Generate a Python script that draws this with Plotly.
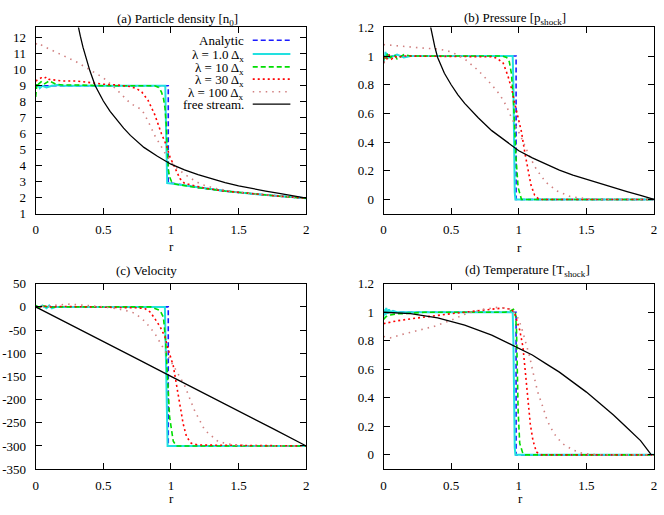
import plotly.graph_objects as go

W, H = 664, 515

# ---------------- (a) Particle density [n0] ----------------
dens_analytic_r = [0, 0.98, 0.98, 1.0, 1.2, 1.4, 1.6, 1.8, 2.0]
dens_analytic = [9, 9, 2.95, 2.93, 2.65, 2.42, 2.25, 2.1, 1.97]
dens_l1_r = [0, 0.005, 0.01, 0.02, 0.03, 0.05, 0.08, 0.12, 0.16, 0.2, 0.5, 0.958, 0.962, 0.966, 0.972, 1.0, 1.2, 1.4, 1.6, 1.8, 2.0]
dens_l1 = [8.9, 9.1, 8.95, 9.05, 8.85, 9.0, 8.9, 9.0, 9.05, 9.0, 9.0, 9.0, 7.0, 4.0, 2.92, 2.9, 2.65, 2.42, 2.25, 2.1, 1.97]
dens_l10_r = [0, 0.005, 0.01, 0.02, 0.04, 0.06, 0.1, 0.15, 0.2, 0.3, 0.5, 0.8, 0.88, 0.91, 0.93, 0.945, 0.956, 0.965, 0.97, 0.975, 0.98, 0.99, 1.005, 1.03, 1.1, 1.2, 1.4, 1.6, 1.8, 2.0]
dens_l10 = [8.3, 9.0, 9.2, 9.1, 9.25, 9.1, 9.3, 9.1, 9.05, 9.05, 9.0, 9.0, 9.0, 8.9, 8.6, 8.2, 7.6, 6.6, 5.6, 4.7, 3.8, 3.3, 3.0, 2.86, 2.75, 2.63, 2.42, 2.25, 2.1, 1.97]
dens_l30_r = [0, 0.02, 0.04, 0.06, 0.08, 0.1, 0.15, 0.2, 0.3, 0.4, 0.5, 0.6, 0.7, 0.75, 0.785, 0.83, 0.88, 0.93, 0.97, 0.99, 1.03, 1.066, 1.1, 1.15, 1.25, 1.4, 1.6, 1.8, 2.0]
dens_l30 = [9.3, 9.4, 9.5, 9.45, 9.55, 9.4, 9.35, 9.3, 9.3, 9.2, 9.1, 9.05, 8.95, 8.8, 8.6, 8.1, 7.2, 6.0, 5.2, 4.6, 3.8, 3.2, 2.9, 2.8, 2.6, 2.42, 2.25, 2.1, 1.97]
dens_l100_r = [0, 0.02, 0.05, 0.1, 0.15, 0.2, 0.3, 0.4, 0.5, 0.6, 0.7, 0.785, 0.83, 0.88, 0.92, 0.956, 1.0, 1.05, 1.13, 1.22, 1.32, 1.45, 1.6, 1.8, 2.0]
dens_l100 = [11.6, 11.7, 11.5, 11.3, 11.1, 10.9, 10.5, 10.0, 9.5, 8.75, 7.9, 7.5, 6.8, 5.9, 5.3, 4.8, 4.25, 3.8, 3.3, 2.85, 2.6, 2.4, 2.25, 2.1, 1.97]
dens_free_r = [0.31, 0.317, 0.33, 0.35, 0.375, 0.4, 0.44, 0.47, 0.5, 0.55, 0.6, 0.65, 0.7, 0.75, 0.8, 0.9, 1.0, 1.1, 1.2, 1.3, 1.4, 1.5, 1.6, 1.7, 1.8, 1.9, 2.0]
dens_free = [12.9, 12.67, 12.1, 11.4, 10.6, 9.95, 9.0, 8.5, 8.05, 7.4, 6.85, 6.35, 5.9, 5.5, 5.15, 4.6, 4.1, 3.75, 3.45, 3.2, 2.95, 2.75, 2.57, 2.42, 2.27, 2.12, 1.98]

# ---------------- (b) Pressure [p_shock] ----------------
pres_analytic_r = [0, 0.98, 0.98, 2.0]
pres_analytic = [1, 1, 0, 0]
pres_l1_r = [0, 0.005, 0.01, 0.015, 0.02, 0.025, 0.03, 0.04, 0.05, 0.07, 0.1, 0.15, 0.2, 0.4, 0.6, 0.8, 0.955, 0.96, 0.965, 0.97, 0.975, 2.0]
pres_l1 = [0.95, 1.0, 0.98, 1.03, 0.99, 1.02, 0.98, 1.01, 0.99, 1.0, 1.01, 0.99, 1.0, 1.0, 1.0, 1.0, 1.0, 0.8, 0.3, 0.05, 0.0, 0.0]
pres_l10_r = [0, 0.01, 0.02, 0.03, 0.05, 0.08, 0.1, 0.15, 0.2, 0.3, 0.5, 0.8, 0.88, 0.91, 0.93, 0.946, 0.963, 0.978, 0.995, 1.02, 1.1, 2.0]
pres_l10 = [0.97, 1.0, 0.98, 1.02, 0.99, 1.01, 0.98, 1.01, 1.0, 1.0, 1.0, 1.0, 1.0, 0.99, 0.96, 0.875, 0.65, 0.31, 0.084, 0.0, 0.0, 0.0]
pres_l30_r = [0, 0.01, 0.02, 0.04, 0.06, 0.08, 0.1, 0.15, 0.2, 0.3, 0.5, 0.7, 0.8, 0.84, 0.885, 0.92, 0.95, 0.975, 0.995, 1.02, 1.044, 1.07, 1.09, 1.117, 1.15, 1.3, 2.0]
pres_l30 = [0.95, 0.99, 0.97, 1.01, 0.98, 1.0, 0.99, 1.0, 1.0, 1.0, 1.0, 1.0, 0.995, 0.985, 0.95, 0.86, 0.76, 0.65, 0.56, 0.47, 0.33, 0.2, 0.1, 0.03, 0.0, 0.0, 0.0]
pres_l100_r = [0, 0.05, 0.1, 0.2, 0.3, 0.4, 0.5, 0.6, 0.7, 0.8, 0.86, 0.91, 0.946, 1.0, 1.04, 1.08, 1.13, 1.2, 1.28, 1.38, 1.5, 1.6, 2.0]
pres_l100 = [1.08, 1.075, 1.07, 1.06, 1.055, 1.05, 1.03, 0.98, 0.9, 0.8, 0.73, 0.65, 0.57, 0.47, 0.38, 0.3, 0.21, 0.12, 0.06, 0.02, 0.005, 0.0, 0.0]
pres_free_r = [0.34, 0.36, 0.38, 0.4, 0.45, 0.5, 0.55, 0.6, 0.7, 0.8, 0.9, 1.0, 1.1, 1.2, 1.3, 1.4, 1.5, 1.6, 1.7, 1.8, 1.9, 2.0]
pres_free = [1.24, 1.14, 1.06, 0.99, 0.88, 0.80, 0.73, 0.67, 0.57, 0.48, 0.41, 0.34, 0.29, 0.245, 0.205, 0.17, 0.14, 0.11, 0.08, 0.055, 0.028, 0.0]

# ---------------- (c) Velocity ----------------
vel_analytic_r = [0, 0.98, 0.98, 2.0]
vel_analytic = [0, 0, -300, -300]
vel_l1_r = [0, 0.02, 0.05, 0.08, 0.1, 0.12, 0.15, 0.2, 0.5, 0.955, 0.962, 0.968, 0.975, 2.0]
vel_l1 = [2, -2, 3, -3, 3, -3, 0, 0, 0, 0, -100, -250, -300, -300]
vel_l10_r = [0, 0.03, 0.06, 0.1, 0.2, 0.5, 0.85, 0.92, 0.944, 0.96, 0.976, 0.99, 1.017, 1.04, 2.0]
vel_l10 = [3, -2, 2, -1, 0, 0, 0, -8, -22, -71, -155, -238, -290, -300, -300]
vel_l30_r = [0, 0.02, 0.05, 0.1, 0.2, 0.4, 0.6, 0.75, 0.81, 0.846, 0.88, 0.92, 0.955, 0.98, 1.017, 1.04, 1.066, 1.09, 1.115, 1.15, 1.2, 2.0]
vel_l30 = [0, -3, 2, 0, 1, 0, 0, -2, -4, -11, -25, -43, -64, -92, -127, -168, -210, -252, -280, -294, -298, -300]
vel_l100_r = [0, 0.1, 0.2, 0.25, 0.3, 0.4, 0.5, 0.6, 0.7, 0.74, 0.81, 0.88, 0.93, 1.005, 1.1, 1.175, 1.25, 1.35, 1.47, 1.6, 2.0]
vel_l100 = [0, 2, 5, 6, 5, 3, 0, -4, -10, -15, -32, -57, -81, -120, -169, -224, -266, -291, -298, -300, -300]
vel_free_r = [0, 0.25, 0.5, 0.75, 1.0, 1.25, 1.5, 1.75, 2.0]
vel_free = [0, -37, -75, -112, -150, -187, -225, -262, -300]

# ---------------- (d) Temperature [T_shock] ----------------
temp_analytic_r = [0, 0.98, 0.98, 2.0]
temp_analytic = [1, 1, 0, 0]
temp_l1_r = [0, 0.01, 0.015, 0.02, 0.03, 0.04, 0.05, 0.07, 0.1, 0.2, 0.5, 0.8, 0.955, 0.96, 0.965, 0.97, 0.975, 2.0]
temp_l1 = [0.97, 1.02, 0.98, 1.03, 0.99, 1.02, 1.0, 1.01, 1.0, 1.0, 1.0, 1.0, 1.0, 0.8, 0.3, 0.05, 0.0, 0.0]
temp_l10_r = [0, 0.02, 0.05, 0.1, 0.15, 0.3, 0.6, 0.9, 0.94, 0.96, 0.975, 0.983, 0.988, 0.995, 1.007, 1.03, 1.044, 2.0]
temp_l10 = [0.95, 0.97, 0.98, 0.99, 0.99, 1.0, 1.0, 1.0, 1.01, 1.02, 1.0, 0.875, 0.65, 0.31, 0.08, 0.01, 0.0, 0.0]
temp_l30_r = [0, 0.05, 0.1, 0.25, 0.4, 0.5, 0.6, 0.7, 0.8, 0.885, 0.946, 0.97, 1.007, 1.03, 1.044, 1.056, 1.068, 1.085, 1.105, 1.13, 1.166, 2.0]
temp_l30 = [0.92, 0.93, 0.94, 0.96, 0.98, 0.99, 1.0, 1.01, 1.02, 1.03, 1.02, 0.99, 0.875, 0.76, 0.625, 0.49, 0.35, 0.216, 0.1, 0.02, 0.0, 0.0]
temp_l100_r = [0, 0.05, 0.12, 0.24, 0.37, 0.49, 0.61, 0.73, 0.85, 0.95, 1.0, 1.03, 1.056, 1.08, 1.105, 1.14, 1.18, 1.21, 1.26, 1.32, 1.4, 1.47, 1.6, 2.0]
temp_l100 = [0.83, 0.82, 0.84, 0.87, 0.9, 0.94, 0.99, 1.02, 1.035, 1.02, 0.95, 0.86, 0.78, 0.69, 0.58, 0.44, 0.33, 0.24, 0.15, 0.08, 0.034, 0.01, 0.0, 0.0]
temp_free_r = [0, 0.2, 0.4, 0.6, 0.8, 1.0, 1.1, 1.2, 1.3, 1.4, 1.5, 1.6, 1.7, 1.8, 1.9, 1.98]
temp_free = [1.0, 0.99, 0.96, 0.91, 0.84, 0.75, 0.70, 0.64, 0.58, 0.51, 0.44, 0.36, 0.28, 0.19, 0.10, 0.0]

# ---------------- labels ----------------
series_names = ["Analytic", "λ = 1.0 Δ<sub>x</sub>", "λ = 10 Δ<sub>x</sub>",
                "λ = 30 Δ<sub>x</sub>", "λ = 100 Δ<sub>x</sub>", "free stream."]
panel_titles = ["(a) Particle density [n<sub>0</sub>]", "(b) Pressure [p<sub>shock</sub>]",
                "(c) Velocity", "(d) Temperature [T<sub>shock</sub>]"]
x_label = "r"
x_ticks = [0, 0.5, 1, 1.5, 2]
vel_ticks = [-350, -300, -250, -200, -150, -100, -50, 0, 50]

styles = [
    dict(color="#1a1aff", width=1.6, dash="5px,3px"),
    dict(color="#22e0e0", width=2.0, dash="solid"),
    dict(color="#00dd00", width=1.6, dash="5px,3px"),
    dict(color="#ff0000", width=1.6, dash="2px,3px"),
    dict(color="#d08080", width=1.6, dash="1.5px,5px"),
    dict(color="#000000", width=1.3, dash="solid"),
]

panels = [
    [(dens_analytic_r, dens_analytic), (dens_l1_r, dens_l1), (dens_l10_r, dens_l10),
     (dens_l30_r, dens_l30), (dens_l100_r, dens_l100), (dens_free_r, dens_free)],
    [(pres_analytic_r, pres_analytic), (pres_l1_r, pres_l1), (pres_l10_r, pres_l10),
     (pres_l30_r, pres_l30), (pres_l100_r, pres_l100), (pres_free_r, pres_free)],
    [(vel_analytic_r, vel_analytic), (vel_l1_r, vel_l1), (vel_l10_r, vel_l10),
     (vel_l30_r, vel_l30), (vel_l100_r, vel_l100), (vel_free_r, vel_free)],
    [(temp_analytic_r, temp_analytic), (temp_l1_r, temp_l1), (temp_l10_r, temp_l10),
     (temp_l30_r, temp_l30), (temp_l100_r, temp_l100), (temp_free_r, temp_free)],
]

fig = go.Figure()
for p, series in enumerate(panels):
    xa = "x" if p == 0 else f"x{p+1}"
    ya = "y" if p == 0 else f"y{p+1}"
    for s, (rr, vv) in enumerate(series):
        fig.add_trace(go.Scatter(x=rr, y=vv, mode="lines", line=styles[s],
                                 xaxis=xa, yaxis=ya, showlegend=False, hoverinfo="skip"))

FONT = "Liberation Serif, Times New Roman, Times, serif"
tf = dict(family=FONT, size=13, color="black")


def px_x(v):
    return v / W


def px_y(v):
    return 1 - v / H


def axis_common():
    return dict(showgrid=False, zeroline=False, showline=True, linecolor="black", linewidth=1,
                mirror="allticks", ticks="inside", ticklen=6, tickcolor="black", tickwidth=1,
                tickfont=tf)


col_dom = [[px_x(33), px_x(306)], [px_x(384), px_x(657)]]
row_dom = [[px_y(213), px_y(21)], [px_y(476), px_y(285)]]

layout = dict(width=W, height=H, autosize=False, margin=dict(l=0, r=0, t=0, b=0),
              paper_bgcolor="white", plot_bgcolor="white", font=tf)

yranges = [[1, 12.65], [-0.1, 1.2], [-350, 50], [-0.1, 1.2]]
for p in range(4):
    col, row = p % 2, p // 2
    kx = "xaxis" if p == 0 else f"xaxis{p+1}"
    ky = "yaxis" if p == 0 else f"yaxis{p+1}"
    anc_x = "y" if p == 0 else f"y{p+1}"
    anc_y = "x" if p == 0 else f"x{p+1}"
    xa = axis_common()
    xa.update(domain=col_dom[col], range=[0, 2], tickvals=x_ticks,
              ticktext=[f"{t:g}" for t in x_ticks], anchor=anc_x, ticklabelstandoff=4)
    ya = axis_common()
    ya.update(domain=row_dom[row], range=yranges[p], anchor=anc_y, ticklabelstandoff=6)
    if p == 0:
        ya.update(tick0=1, dtick=1)
    elif p == 2:
        ya.update(tickvals=vel_ticks, ticktext=[str(t) for t in vel_ticks])
    else:
        ya.update(tick0=0, dtick=0.2)
    layout[kx] = xa
    layout[ky] = ya

annotations = []
title_pos = [(176, 13), (517, 12), (145, 271), (529, 271)]
for t, (x, y) in zip(panel_titles, title_pos):
    annotations.append(dict(text=t, x=px_x(x), y=px_y(y), xref="paper", yref="paper",
                            xanchor="center", yanchor="middle", showarrow=False, font=tf))
label_pos = [(170, 247), (521, 248), (170, 506), (522, 506)]
for (x, y) in label_pos:
    annotations.append(dict(text=x_label, x=px_x(x), y=px_y(y), xref="paper", yref="paper",
                            xanchor="center", yanchor="middle", showarrow=False, font=tf))

# key (legend) in panel (a): text right-aligned, sample to its right
key_y = [34.3, 48.3, 61.7, 74.3, 87.3, 100.0]
shapes = []
for name, st, ky in zip(series_names, styles, key_y):
    annotations.append(dict(text=name, x=px_x(245), y=px_y(ky + (1.5 if "sub" in name else 0)),
                            xref="paper", yref="paper", xanchor="right", yanchor="middle",
                            showarrow=False, font=tf))
    shapes.append(dict(type="line", xref="paper", yref="paper", x0=px_x(252), x1=px_x(290),
                       y0=px_y(ky), y1=px_y(ky), line=st))

layout["annotations"] = annotations
layout["shapes"] = shapes
fig.update_layout(**layout)
fig.write_html("out.html", config={"displayModeBar": False},
               post_script="document.body.style.margin='0px';document.body.style.overflow='hidden';")
